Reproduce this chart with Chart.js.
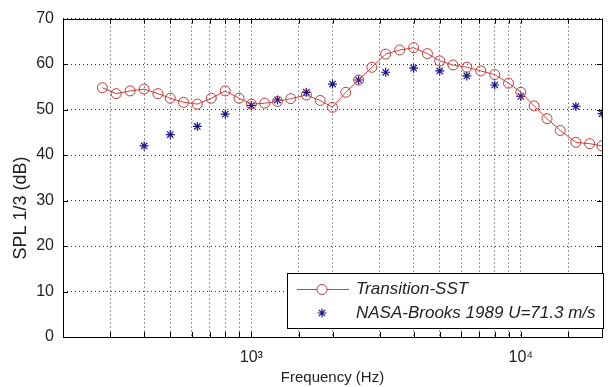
<!DOCTYPE html>
<html lang="en">
<head>
  <meta charset="UTF-8">
  <title>SPL 1/3 vs Frequency</title>
  <script src="https://cdn.jsdelivr.net/npm/chart.js"></script>
  <style>
    body { margin: 0; background: #fff; }
    canvas { display: block; }
  </style>
</head>
<body>
<canvas id="graficoSPL" width="613" height="387"></canvas>

<script>
  // Datos
  const freqSST = [280, 315, 355, 400, 450, 500, 560, 630, 710, 800, 900, 1000, 1120, 1250, 1400, 1600, 1800, 2000, 2240, 2500,
                   2800, 3150, 3550, 4000, 4500, 5000, 5600, 6300, 7100, 8000, 9000, 10000, 11200, 12500, 14000, 16000, 18000, 20000];
  const splSST = [54.8, 53.5, 54.1, 54.5, 53.5, 52.5, 51.6, 51.2, 52.5, 54.1, 52.5, 51.2, 51.4, 51.8, 52.4, 53.2, 52.0, 50.5, 53.8, 56.5,
                  59.3, 62.2, 63.1, 63.6, 62.3, 60.7, 59.8, 59.3, 58.5, 57.7, 55.8, 53.8, 50.8, 48.0, 45.4, 42.8, 42.5, 42.0];

  const freqNASA = [400, 500, 630, 800, 1000, 1250, 1600, 2000, 2500, 3150, 4000, 5000, 6300, 8000, 10000, 16000, 20000];
  const splNASA = [42.0, 44.5, 46.3, 49.0, 50.9, 52.1, 53.8, 55.6, 56.5, 58.2, 59.1, 58.5, 57.4, 55.4, 52.9, 50.7, 49.1];

  const labelSST = "Transition-SST";
  const labelNASA = "NASA-Brooks 1989 U=71.3 m/s";
  const yTicks = [0, 10, 20, 30, 40, 50, 60, 70];
  const superindices = ["\u2070", "\u00B9", "\u00B2", "\u00B3", "\u2074", "\u2075"];
  const tituloY = "SPL 1/3 (dB)";

  const FONT = "'Liberation Sans', Arial, sans-serif";

  // Caja, marcas hacia dentro, titulo Y y leyenda estilo MATLAB
  const marcoPlugin = {
    id: "marco",
    afterDraw(chart) {
      const { ctx, chartArea: a, scales } = chart;
      ctx.save();
      ctx.strokeStyle = "#000";
      ctx.lineWidth = 1;
      ctx.setLineDash([]);
      ctx.beginPath();
      scales.x.ticks.forEach(t => {
        const px = Math.round(scales.x.getPixelForValue(t.value)) + 0.5;
        ctx.moveTo(px, a.bottom); ctx.lineTo(px, a.bottom - 5);
        ctx.moveTo(px, a.top); ctx.lineTo(px, a.top + 5);
      });
      yTicks.forEach(v => {
        const py = Math.round(scales.y.getPixelForValue(v)) + 0.5;
        ctx.moveTo(a.left, py); ctx.lineTo(a.left + 5, py);
        ctx.moveTo(a.right, py); ctx.lineTo(a.right - 5, py);
      });
      ctx.stroke();
      ctx.strokeRect(Math.round(a.left) + 0.5, Math.round(a.top) + 0.5,
                     Math.round(a.right - a.left), Math.round(a.bottom - a.top));

      // titulo del eje Y (algo desplazado hacia abajo como en el original)
      ctx.save();
      ctx.translate(21, 208);
      ctx.rotate(-Math.PI / 2);
      ctx.fillStyle = "#222";
      ctx.font = "18px " + FONT;
      ctx.textAlign = "center";
      ctx.textBaseline = "middle";
      ctx.fillText(tituloY, 0, 0);
      ctx.restore();

      // leyenda
      const lx = 287, ly = 273, lw = 316, lh = 55;
      ctx.fillStyle = "#fff";
      ctx.fillRect(lx, ly, lw, lh);
      ctx.strokeStyle = "#000";
      ctx.strokeRect(lx + 0.5, ly + 0.5, lw, lh);

      const ds0 = chart.data.datasets[0];
      const ds1 = chart.data.datasets[1];
      ctx.strokeStyle = ds0.borderColor;
      ctx.lineWidth = ds0.borderWidth;
      ctx.beginPath();
      ctx.moveTo(297, 289.5); ctx.lineTo(349, 289.5);
      ctx.stroke();
      ctx.strokeStyle = ds0.pointBorderColor;
      ctx.fillStyle = "#fff";
      Chart.helpers.drawPoint(ctx, {
        pointStyle: ds0.pointStyle, radius: ds0.pointRadius, borderWidth: ds0.pointBorderWidth, rotation: 0
      }, 322, 289.5);
      ctx.strokeStyle = ds1.pointBorderColor;
      ctx.lineWidth = ds1.pointBorderWidth;
      Chart.helpers.drawPoint(ctx, {
        pointStyle: ds1.pointStyle, radius: ds1.pointRadius, borderWidth: ds1.pointBorderWidth, rotation: 0
      }, 322, 313);

      ctx.fillStyle = "#222";
      ctx.font = "italic 17px " + FONT;
      ctx.textBaseline = "middle";
      ctx.textAlign = "left";
      ctx.fillText(ds0.label, 356, 289);
      ctx.fillText(ds1.label, 356, 313);
      ctx.restore();
    }
  };

  new Chart(document.getElementById("graficoSPL"), {
    type: "scatter",
    data: {
      datasets: [{
        label: labelSST,
        data: freqSST.map((f, i) => ({ x: f, y: splSST[i] })),
        showLine: true,
        borderColor: "#d83c3c",
        borderWidth: 1,
        pointStyle: "circle",
        pointRadius: 5,
        pointBorderColor: "#c23838",
        pointBackgroundColor: "rgba(0,0,0,0)",
        pointBorderWidth: 1
      }, {
        label: labelNASA,
        data: freqNASA.map((f, i) => ({ x: f, y: splNASA[i] })),
        showLine: false,
        pointStyle: "star",
        pointRadius: 4.5,
        pointBorderColor: "#18188e",
        pointBackgroundColor: "#18188e",
        pointBorderWidth: 1.2
      }]
    },
    options: {
      responsive: false,
      animation: false,
      layout: { padding: { left: 0, right: 7, top: 17, bottom: 0 } },
      plugins: { legend: { display: false }, tooltip: { enabled: false } },
      scales: {
        x: {
          type: "logarithmic",
          min: 200,
          max: 20000,
          afterFit: s => { s.height = 50; },
          grid: { color: "#333", lineWidth: 1, drawTicks: false },
          border: { display: false, dash: [1, 3] },
          ticks: {
            autoSkip: false,
            maxRotation: 0,
            padding: 11,
            color: "#222",
            font: { family: FONT, size: 16 },
            callback: v => {
              const l = Math.log10(v);
              return Math.abs(l - Math.round(l)) < 1e-9 ? "10" + superindices[Math.round(l)] : "";
            }
          },
          title: {
            display: true,
            text: "Frequency (Hz)",
            color: "#222",
            font: { family: FONT, size: 15 },
            padding: { top: 0, bottom: 0 }
          }
        },
        y: {
          min: 0,
          max: 70,
          afterFit: s => { s.width = 63; },
          afterBuildTicks: s => { s.ticks = yTicks.map(v => ({ value: v })); },
          grid: { color: "#333", lineWidth: 1, drawTicks: false },
          border: { display: false, dash: [1, 3] },
          ticks: {
            padding: 9,
            color: "#222",
            font: { family: FONT, size: 16 }
          }
        }
      }
    },
    plugins: [marcoPlugin]
  });
</script>
</body>
</html>
